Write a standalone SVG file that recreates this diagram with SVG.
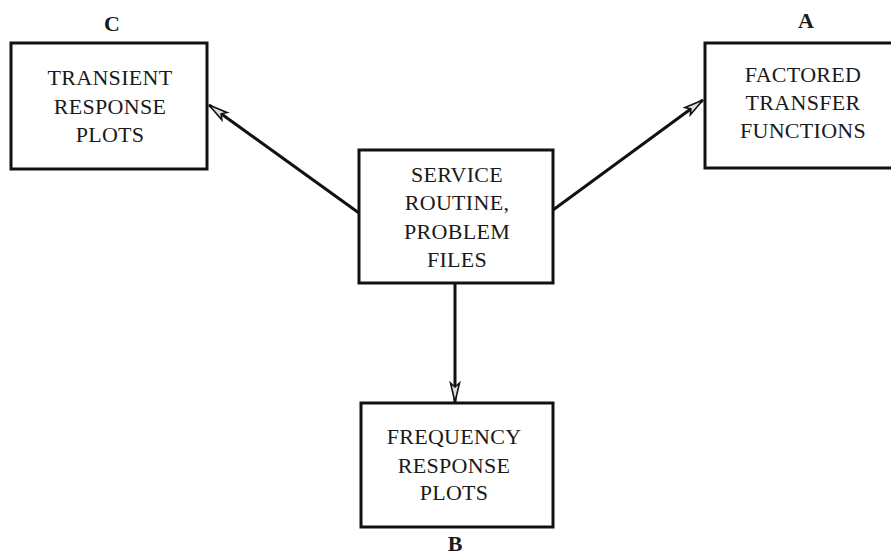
<svg xmlns="http://www.w3.org/2000/svg" width="891" height="558" viewBox="0 0 891 558">
  <defs>
    <style>
      .box { fill: none; stroke: #111; stroke-width: 3; }
      .t { font-family: "Liberation Serif", "DejaVu Serif", serif; font-size: 22px; letter-spacing: 0.3px; fill: #1a1a1a; text-anchor: middle; }
      .lbl { font-family: "Liberation Serif", "DejaVu Serif", serif; font-size: 22px; font-weight: bold; fill: #1a1a1a; text-anchor: middle; }
      .conn { stroke: #111; stroke-width: 3; fill: none; }
    </style>
    <marker id="ah" markerUnits="userSpaceOnUse" markerWidth="24" markerHeight="14" viewBox="-22 -7 24 14" refX="0" refY="0" orient="auto">
      <path d="M0,0 L-19,-4.5 L-15,0 L-19,4.5 Z" fill="#ddd" stroke="#111" stroke-width="1.6" stroke-linejoin="miter"/>
    </marker>
  </defs>
  <rect width="891" height="558" fill="#fff"/>

  <g id="connectors">
    <line class="conn" x1="359" y1="213" x2="209" y2="105" marker-end="url(#ah)"/>
    <line class="conn" x1="553" y1="210" x2="703" y2="100" marker-end="url(#ah)"/>
    <line class="conn" x1="455" y1="283" x2="455" y2="402" marker-end="url(#ah)"/>
  </g>

  <g id="nodeC">
    <rect class="box" x="11" y="43" width="196" height="126"/>
    <text class="lbl" x="112" y="31">C</text>
    <text class="t" x="110" y="85">TRANSIENT</text>
    <text class="t" x="110" y="114">RESPONSE</text>
    <text class="t" x="110" y="142">PLOTS</text>
  </g>

  <g id="nodeA">
    <rect class="box" x="705" y="43" width="192" height="125"/>
    <text class="lbl" x="806" y="28">A</text>
    <text class="t" x="803" y="82">FACTORED</text>
    <text class="t" x="803" y="110">TRANSFER</text>
    <text class="t" x="803" y="138">FUNCTIONS</text>
  </g>

  <g id="nodeService">
    <rect class="box" x="359" y="150" width="194" height="133"/>
    <text class="t" x="457" y="182">SERVICE</text>
    <text class="t" x="457" y="210">ROUTINE,</text>
    <text class="t" x="457" y="239">PROBLEM</text>
    <text class="t" x="457" y="267">FILES</text>
  </g>

  <g id="nodeB">
    <rect class="box" x="361" y="403" width="192" height="124"/>
    <text class="t" x="454" y="444">FREQUENCY</text>
    <text class="t" x="454" y="473">RESPONSE</text>
    <text class="t" x="454" y="500">PLOTS</text>
    <text class="lbl" x="455" y="551">B</text>
  </g>
</svg>
